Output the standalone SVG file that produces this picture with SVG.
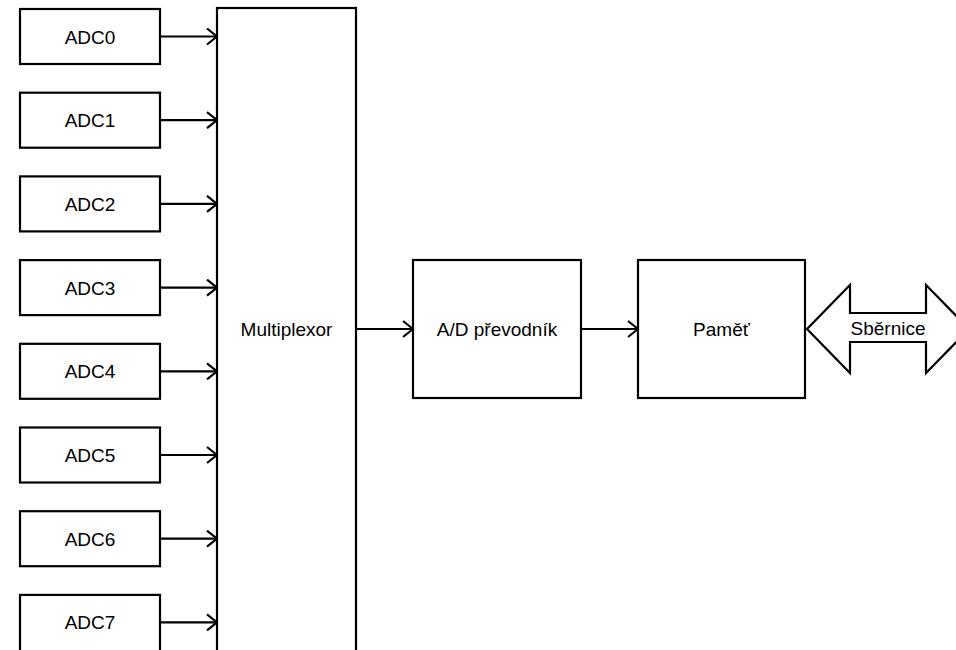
<svg xmlns="http://www.w3.org/2000/svg" width="956" height="650" viewBox="0 0 956 650">
<defs>
<style>
.box{fill:#fff;stroke:#000;stroke-width:2.2}
.t{font-family:"Liberation Sans",Arial,sans-serif;font-size:19px;fill:#000;text-anchor:middle}
.c{stroke:#000;stroke-width:2.2;fill:none}
</style>
<marker id="ah" viewBox="0 0 12 18" refX="11" refY="9" markerWidth="12" markerHeight="18" markerUnits="userSpaceOnUse" orient="auto">
<path d="M1,1 L11,9 L1,17" fill="none" stroke="#000" stroke-width="2.2"/>
</marker>
</defs>
<rect width="956" height="650" fill="#fff"/>
<g id="adc0"><rect class="box" x="20" y="9" width="140" height="55"/><text class="t" x="90" y="43.5">ADC0</text></g>
<g id="adc1"><rect class="box" x="20" y="92.7" width="140" height="55"/><text class="t" x="90" y="127.2">ADC1</text></g>
<g id="adc2"><rect class="box" x="20" y="176.4" width="140" height="55"/><text class="t" x="90" y="210.9">ADC2</text></g>
<g id="adc3"><rect class="box" x="20" y="260.1" width="140" height="55"/><text class="t" x="90" y="294.6">ADC3</text></g>
<g id="adc4"><rect class="box" x="20" y="343.8" width="140" height="55"/><text class="t" x="90" y="378.3">ADC4</text></g>
<g id="adc5"><rect class="box" x="20" y="427.5" width="140" height="55"/><text class="t" x="90" y="462">ADC5</text></g>
<g id="adc6"><rect class="box" x="20" y="511.2" width="140" height="55"/><text class="t" x="90" y="545.7">ADC6</text></g>
<g id="adc7"><rect class="box" x="20" y="594.9" width="140" height="65"/><text class="t" x="90" y="629.4">ADC7</text></g>
<g id="mux"><rect class="box" x="217" y="8" width="139" height="660"/><text class="t" x="286.5" y="336">Multiplexor</text></g>
<g id="adconv"><rect class="box" x="413" y="260" width="168" height="138"/><text class="t" x="497" y="336">A/D převodník</text></g>
<g id="mem"><rect class="box" x="638" y="260" width="167" height="138"/><text class="t" x="721.5" y="336">Paměť</text></g>
<g id="bus"><polygon class="box" points="807,329 850,285 850,313 926,313 926,285 969,329 926,373 926,342 850,342 850,373"/><text class="t" x="888" y="335">Sběrnice</text></g>
<g id="connectors">
<line class="c" x1="160" y1="36.5" x2="217" y2="36.5" marker-end="url(#ah)"/>
<line class="c" x1="160" y1="120.2" x2="217" y2="120.2" marker-end="url(#ah)"/>
<line class="c" x1="160" y1="203.9" x2="217" y2="203.9" marker-end="url(#ah)"/>
<line class="c" x1="160" y1="287.6" x2="217" y2="287.6" marker-end="url(#ah)"/>
<line class="c" x1="160" y1="371.3" x2="217" y2="371.3" marker-end="url(#ah)"/>
<line class="c" x1="160" y1="455" x2="217" y2="455" marker-end="url(#ah)"/>
<line class="c" x1="160" y1="538.7" x2="217" y2="538.7" marker-end="url(#ah)"/>
<line class="c" x1="160" y1="622.4" x2="217" y2="622.4" marker-end="url(#ah)"/>
<line class="c" x1="356" y1="329" x2="413" y2="329" marker-end="url(#ah)"/>
<line class="c" x1="581" y1="329" x2="638" y2="329" marker-end="url(#ah)"/>
</g>
</svg>
